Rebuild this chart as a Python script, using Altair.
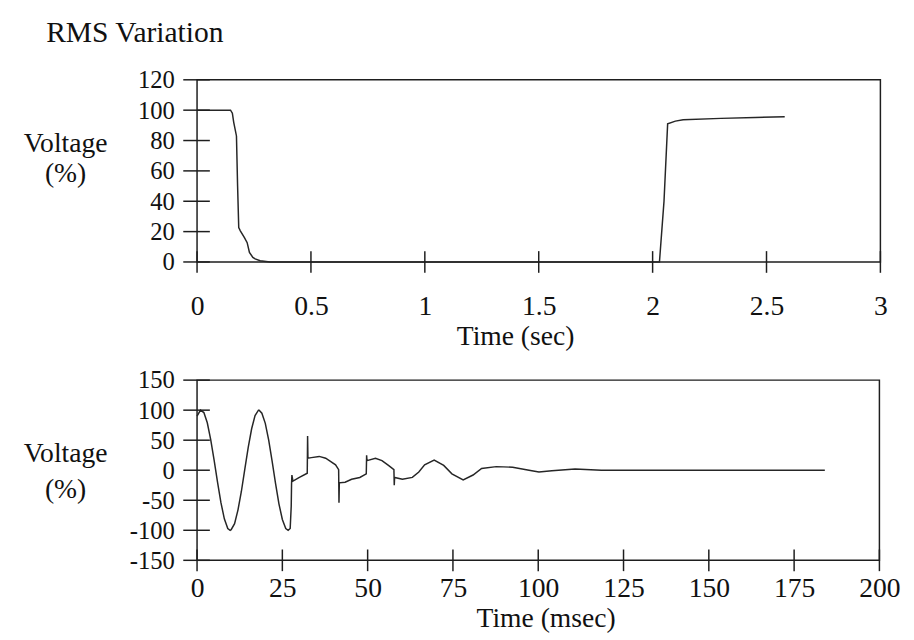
import altair as alt
import pandas as pd

FONT = "Liberation Serif"
chart_title = "RMS Variation"

# Top panel: RMS voltage (%) vs time (sec)
top_t = [0, 0.147, 0.155, 0.161, 0.173, 0.178, 0.183, 0.19, 0.2, 0.208, 0.22, 0.23,
         0.245, 0.255, 0.277, 0.32, 1.0, 1.5, 2.0, 2.03, 2.05, 2.066, 2.1, 2.134,
         2.3, 2.45, 2.58]
top_v = [100, 100, 98, 92, 83, 50, 22.6, 20.5, 18, 16, 12.7, 6.3,
         3, 2, 0.8, 0, 0, 0, 0, 0, 40, 91, 92.8, 93.7,
         94.6, 95.2, 95.6]
top_xticks = [0, 0.5, 1, 1.5, 2, 2.5, 3]
top_yticks = [0, 20, 40, 60, 80, 100, 120]

# Bottom panel: instantaneous voltage (%) vs time (msec)
bot_t = [0, 1, 2, 3, 4, 5, 6, 7, 8, 9,
         9.7, 10, 11, 12, 13, 14, 15, 16, 17, 18,
         18.2, 19, 20, 21, 22, 23, 24, 25, 26, 26.7,
         27.3, 27.6, 27.7, 27.8, 28.1, 30, 32.3, 32.4, 32.5, 33.5,
         35.8, 37.7, 40.6, 41.5, 41.6, 41.7, 43.4, 45.3, 47.7, 49.6,
         49.7, 49.8, 52.3, 54.2, 56.1, 57.7, 57.8, 57.9, 60.2, 63.1,
         65, 66.7, 69.5, 72.3, 74.7, 78, 80.9, 83.4, 87.7, 92.5,
         97.3, 100.2, 104, 110.8, 118.5, 130, 145, 160, 175, 184]
bot_v = [90, 100, 96, 79, 51, 17, -20, -54, -81, -97,
         -100, -99, -89, -66, -35, 2, 38, 69, 91, 100,
         100, 95, 78, 50, 15, -22, -56, -82, -97, -100,
         -97, -60, -22, -8, -18, -12, -5, 57, 20, 21,
         23, 20, 9, 1, -54, -21, -20, -15, -12, -6,
         25, 16, 20, 16, 8, 1, -25, -12, -15, -12,
         -3, 9, 17, 8, -6, -16, -8, 3, 6, 5,
         0, -3, -1, 2, 0, 0, 0, 0, 0, 0]
bot_xticks = [0, 25, 50, 75, 100, 125, 150, 175, 200]
bot_yticks = [-150, -100, -50, 0, 50, 100, 150]

INK = "#1e1e1e"


def panel(tt, vv, xt, yt, xdom, ydom, w, h, xtitle, ytitle,
          x_lab_pad, x_title_x, x_title_y, y_title_y, y_line_h, ylab_size):
    xaxis = alt.Axis(values=xt, title=xtitle, domain=False, ticks=False, grid=False,
                     labelExpr="toString(datum.value)", labelFont=FONT, labelFontSize=28,
                     labelColor="#111", labelPadding=x_lab_pad, labelFlush=False,
                     titleFont=FONT, titleFontSize=28, titleFontWeight="normal",
                     titleColor="#111", titleX=x_title_x, titleY=x_title_y,
                     titleAlign="center", titleBaseline="alphabetic")
    yaxis = alt.Axis(values=yt, title=ytitle, domain=False, ticks=False, grid=False,
                     labelExpr="toString(datum.value)", labelFont=FONT,
                     labelFontSize=ylab_size, labelColor="#111", labelPadding=23,
                     labelFlush=False, titleFont=FONT, titleFontSize=28,
                     titleFontWeight="normal", titleColor="#111", titleAngle=0,
                     titleX=-134, titleY=y_title_y, titleAlign="center",
                     titleBaseline="alphabetic", titleLineHeight=y_line_h)
    x = alt.X("t:Q", scale=alt.Scale(domain=xdom, nice=False, zero=False), axis=xaxis)
    y = alt.Y("v:Q", scale=alt.Scale(domain=ydom, nice=False, zero=False), axis=yaxis)
    line = alt.Chart(pd.DataFrame({"t": tt, "v": vv})).mark_line(
        color="#262626", strokeWidth=1.5).encode(x=x, y=y)
    yticks = alt.Chart(pd.DataFrame({"v": yt})).mark_rule(
        color=INK, strokeWidth=1.5).encode(y=y, x=alt.value(-14), x2=alt.value(13))
    xticks = alt.Chart(pd.DataFrame({"t": xt})).mark_rule(
        color=INK, strokeWidth=1.5).encode(x=x, y=alt.value(h - 11), y2=alt.value(h + 11))
    return alt.layer(line, yticks, xticks).properties(width=w, height=h)


top = panel(top_t, top_v, top_xticks, top_yticks, [0, 3], [0, 120], 694, 185,
            "Time (sec)", ["Voltage", "(%)"], 31, 323, 84, 73, 30, 25)
bottom = panel(bot_t, bot_v, bot_xticks, bot_yticks, [0, 200], [-150, 150], 693, 183,
               "Time (msec)", ["Voltage", "(%)"], 15, 354, 67, 83, 36, 25)

chart = alt.vconcat(top, bottom, spacing=16).properties(
    title=alt.TitleParams(chart_title, anchor="start", font=FONT, fontSize=30,
                          fontWeight="normal", color="#111", dx=24, offset=20),
    padding={"left": 14, "top": 5, "right": 5, "bottom": 2},
).configure(background="white").configure_view(stroke=INK, strokeWidth=1.5)

chart.save("out.html", embed_options={"renderer": "svg", "actions": False})
